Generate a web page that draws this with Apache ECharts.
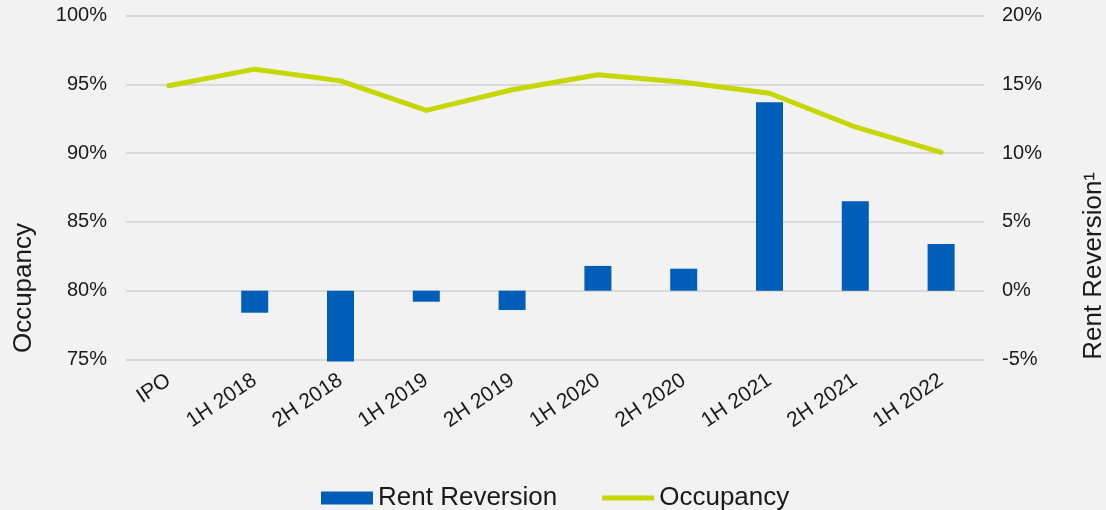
<!DOCTYPE html>
<html>
<head>
<meta charset="utf-8">
<script src="https://cdn.jsdelivr.net/npm/echarts@6/dist/echarts.min.js"></script>
<style>
  html, body { margin: 0; padding: 0; background: #f2f2f2; }
  #main { width: 1106px; height: 510px; }
</style>
</head>
<body>
<div id="main"></div>
<script>
// periods on the x axis
var periods = ['IPO', '1H 2018', '2H 2018', '1H 2019', '2H 2019', '1H 2020', '2H 2020', '1H 2021', '2H 2021', '1H 2022'];
// rent reversion, % (right axis) - no bar at IPO
var rentReversion = [null, -1.6, -5.15, -0.8, -1.4, 1.8, 1.6, 13.7, 6.5, 3.4];
// occupancy, % (left axis)
var occupancy = [94.9, 96.1, 95.25, 93.1, 94.6, 95.7, 95.15, 94.35, 91.9, 90.05];

var chart = echarts.init(document.getElementById('main'));

var textColor = '#1a1a1a';
var fontFam = '"Liberation Sans", Arial, sans-serif';

chart.setOption({
  backgroundColor: '#f2f2f2',
  animation: false,
  textStyle: { fontFamily: fontFam, color: textColor },
  grid: {
    left: 126,
    right: 122,
    top: 15.5,
    bottom: 150.5
  },
  legend: {
    left: 316,
    top: 480,
    itemWidth: 52,
    itemHeight: 13,
    itemGap: 45,
    textStyle: { fontSize: 26, color: textColor, fontFamily: fontFam },
    data: [
      { name: 'Rent Reversion', icon: 'rect' },
      // thick line icon, the tiny bits at top/bottom only keep the box 52x13
      { name: 'Occupancy', icon: 'path://M0,0L0.01,0L0,0.01ZM0,4L52,4L52,9L0,9ZM0,13L0.01,13L0,12.99Z' }
    ]
  },
  xAxis: {
    type: 'category',
    data: periods,
    axisLine: { show: false },
    axisTick: { show: false },
    axisLabel: {
      rotate: 34,
      margin: 19,
      fontSize: 21,
      color: textColor,
      fontFamily: fontFam,
      interval: 0
    }
  },
  yAxis: [{
    type: 'value',
    min: 75,
    max: 100,
    interval: 5,
    axisLine: { show: false },
    axisTick: { show: false },
    splitLine: { lineStyle: { color: '#d9d9d9', width: 2 } },
    axisLabel: {
      formatter: '{value}%',
      fontSize: 20,
      margin: 19,
      color: textColor,
      fontFamily: fontFam
    }
  }, {
    type: 'value',
    min: -5,
    max: 20,
    interval: 5,
    axisLine: { show: false },
    axisTick: { show: false },
    splitLine: { show: false },
    axisLabel: {
      formatter: '{value}%',
      fontSize: 20,
      margin: 18,
      color: textColor,
      fontFamily: fontFam
    }
  }],
  graphic: [{
    type: 'text',
    left: 11,
    top: 223,
    rotation: Math.PI / 2,
    style: { text: 'Occupancy', fontSize: 26, fill: textColor, fontFamily: fontFam }
  }, {
    type: 'text',
    left: 1081,
    top: 172,
    rotation: Math.PI / 2,
    style: { text: 'Rent Reversion¹', fontSize: 26, fill: textColor, fontFamily: fontFam }
  }],
  series: [{
    name: 'Rent Reversion',
    type: 'bar',
    yAxisIndex: 1,
    data: rentReversion,
    barWidth: 27,
    clip: false,
    itemStyle: { color: '#005eb8' }
  }, {
    name: 'Occupancy',
    type: 'line',
    yAxisIndex: 0,
    data: occupancy,
    symbol: 'none',
    lineStyle: { color: '#c5d600', width: 5, cap: 'round', join: 'round' },
    itemStyle: { color: '#c5d600' }
  }]
});
</script>
</body>
</html>
